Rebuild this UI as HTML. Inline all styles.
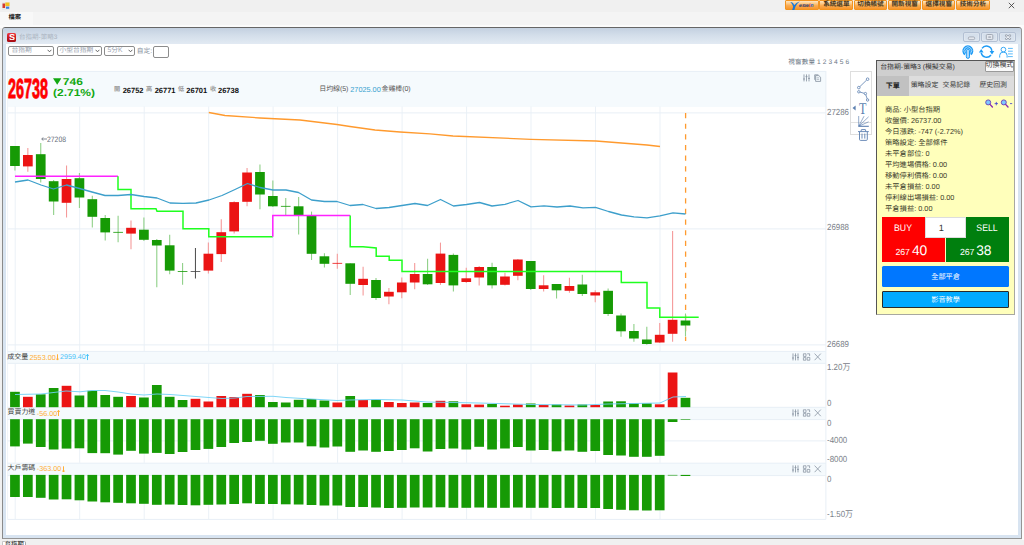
<!DOCTYPE html>
<html lang="zh-Hant"><head><meta charset="utf-8"><title>台指期-策略3</title>
<style>
html,body{margin:0;padding:0;overflow:hidden}
body{width:1024px;height:545px;overflow:hidden;background:#f0f0f0;text-rendering:geometricPrecision;font-family:"Liberation Sans","Noto Sans CJK TC",sans-serif;position:relative}
.a{position:absolute}
.t{position:absolute;white-space:nowrap}
.t span{display:inline}
.ob{position:absolute;top:0;height:10.3px;width:33.6px;border-radius:1px;box-sizing:border-box;border:0.7px solid #f29420;
 background:linear-gradient(#fde6c2 0%,#fccd90 28%,#faab50 58%,#f8962c 100%)}
.sel{position:absolute;top:45.8px;height:10px;box-sizing:border-box;border:1px solid #8c8c8c;border-radius:2px;background:#fff}
.wb{position:absolute;top:32.3px;height:9.6px;width:16.8px;box-sizing:border-box;border:1px solid #b3c0d3;border-radius:2px;background:linear-gradient(#d3deeb,#dbe4ef);box-shadow:inset 0 0 0 0.6px rgba(255,255,255,0.35)}
</style></head><body>
<div class="a" style="left:0;top:0;width:1024px;height:12px;background:#f0f0f0"></div>
<div class="a" style="left:0;top:12px;width:1024px;height:13px;background:#f4f4f4"></div>
<div class="a" style="left:0;top:12px;width:33px;height:13px;background:#f8f8f8"></div>
<div class="a" style="left:0;top:25px;width:1024px;height:3px;background:#fbfbfb"></div>
<svg class="a" style="left:1.5px;top:2px" width="8" height="8" viewBox="0 0 8 8"><rect x="0" y="0" width="8" height="8" fill="#e8e8e8"/><rect x="0.5" y="1.5" width="2.6" height="4.5" fill="#d23a30"/><rect x="3.3" y="0.5" width="4.2" height="3.6" fill="#f3c020"/><rect x="4" y="4.6" width="3.2" height="2.2" fill="#3d7fe0"/></svg>
<div class="t" style="top:15.35px;font-size:6.30px;line-height:6.30px;height:6.30px;color:#222;left:8.40px;font-weight:bold;"><span>檔案</span></div>
<div class="ob" style="left:785.30px"></div>
<div class="ob" style="left:819.45px"></div>
<div class="t" style="top:1.80px;font-size:6.60px;line-height:6.60px;height:6.60px;color:#45361c;left:836.35px;transform:translateX(-50%);font-weight:bold;"><span>系統選單</span></div>
<div class="ob" style="left:853.60px"></div>
<div class="t" style="top:1.80px;font-size:6.60px;line-height:6.60px;height:6.60px;color:#45361c;left:870.50px;transform:translateX(-50%);font-weight:bold;"><span>切換帳號</span></div>
<div class="ob" style="left:887.75px"></div>
<div class="t" style="top:1.80px;font-size:6.60px;line-height:6.60px;height:6.60px;color:#45361c;left:904.65px;transform:translateX(-50%);font-weight:bold;"><span>開新視窗</span></div>
<div class="ob" style="left:921.90px"></div>
<div class="t" style="top:1.80px;font-size:6.60px;line-height:6.60px;height:6.60px;color:#45361c;left:938.80px;transform:translateX(-50%);font-weight:bold;"><span>選擇視窗</span></div>
<div class="ob" style="left:956.05px"></div>
<div class="t" style="top:1.80px;font-size:6.60px;line-height:6.60px;height:6.60px;color:#45361c;left:972.95px;transform:translateX(-50%);font-weight:bold;"><span>技術分析</span></div>
<svg class="a" style="left:790px;top:0.7px" width="10.4" height="9.2" viewBox="0 0 10 9"><path d="M0.2 1Q3 1 4 4.2Q5.6 1.4 9.6 0.2Q6.6 2.6 5.2 5.6L4.2 8.8H2L3 5.6Q2.2 2.6 0.2 1Z" fill="#1b78d8"/></svg>
<div class="t" style="left:799px;top:3.6px;font-size:5.3px;line-height:5.3px;color:#1f3575;font-weight:bold;font-style:italic;letter-spacing:-0.05px">esw<span style="color:#e0201a">i</span><span style="color:#1b62c8">n</span></div>
<svg class="a" style="left:1007.5px;top:2px" width="7" height="7" viewBox="0 0 7 7"><path d="M0.8 0.8L6.2 6.2M6.2 0.8L0.8 6.2" stroke="#333" stroke-width="0.8" fill="none"/></svg>
<div class="a" style="left:2px;top:27px;width:1020px;height:512px;box-sizing:border-box;border:1px solid #959595;border-top-color:#666;border-left-color:#8a8a8a;border-radius:3.5px 3.5px 0 0;background:#d8e4f1"></div>
<div class="a" style="left:3px;top:28px;width:1017.5px;height:16.3px;border-radius:3px 3px 0 0;background:linear-gradient(#c3d0e0,#d3deea 45%,#e2eaf3)"></div>
<div class="a" style="left:6.2px;top:44.2px;width:1011.6px;height:491px;background:#fff"></div>
<div class="a" style="left:7.3px;top:33px;width:8.8px;height:8.8px;border-radius:1.6px;background:linear-gradient(#ee3a42,#c4121a 60%,#a50d14)"></div>
<div class="t" style="left:8.7px;top:33.3px;font-size:8.6px;line-height:8.6px;color:#fff;font-weight:bold;transform:scaleX(1.05);transform-origin:left">S</div>
<div class="t" style="top:34.55px;font-size:6.50px;line-height:6.50px;height:6.50px;color:#aab3c0;left:19.00px;"><span>台指期</span><span>-</span><span>策略</span><span>3</span></div>
<div class="wb" style="left:963.2px"></div>
<div class="wb" style="left:981.3px"></div>
<div class="wb" style="left:999.4px"></div>
<svg class="a" style="left:0;top:0" width="1024" height="545" viewBox="0 0 1024 545" fill="none"><rect x="968.3" y="36.9" width="6.4" height="2.8" rx="1.4" fill="#e3e7ee" stroke="#9aa1ad" stroke-width="0.8"/><rect x="986.3" y="34.5" width="6.5" height="5.1" rx="1.1" fill="#e3e7ee" stroke="#9aa1ad" stroke-width="0.9"/><rect x="988.3" y="36.3" width="2.6" height="1.6" fill="#aab1bd"/><path d="M1006.1 35.5L1010 38.8M1010 35.5L1006.1 38.8" stroke="#9aa1ad" stroke-width="2.3" stroke-linecap="round"/><path d="M1006.1 35.5L1010 38.8M1010 35.5L1006.1 38.8" stroke="#eef1f5" stroke-width="1.0" stroke-linecap="round"/></svg>
<div class="sel" style="left:8.4px;width:46.1px"></div>
<div class="t" style="top:47.52px;font-size:6.75px;line-height:6.75px;height:6.75px;color:#9aa3b0;left:11.40px;"><span>台指期</span></div>
<svg class="a" style="left:47.3px;top:49.3px" width="5" height="4" viewBox="0 0 5 4"><path d="M0.6 0.8L2.5 2.8L4.4 0.8" fill="none" stroke="#555" stroke-width="0.9"/></svg>
<div class="sel" style="left:56.6px;width:45.9px"></div>
<div class="t" style="top:47.52px;font-size:6.75px;line-height:6.75px;height:6.75px;color:#9aa3b0;left:59.60px;"><span>小型台指期</span></div>
<svg class="a" style="left:95.3px;top:49.3px" width="5" height="4" viewBox="0 0 5 4"><path d="M0.6 0.8L2.5 2.8L4.4 0.8" fill="none" stroke="#555" stroke-width="0.9"/></svg>
<div class="sel" style="left:104.4px;width:30.9px"></div>
<div class="t" style="top:47.52px;font-size:6.75px;line-height:6.75px;height:6.75px;color:#9aa3b0;left:107.40px;"><span>5</span><span>分</span><span>K</span></div>
<svg class="a" style="left:128.1px;top:49.3px" width="5" height="4" viewBox="0 0 5 4"><path d="M0.6 0.8L2.5 2.8L4.4 0.8" fill="none" stroke="#555" stroke-width="0.9"/></svg>
<div class="t" style="top:48.65px;font-size:6.70px;line-height:6.70px;height:6.70px;color:#818b98;left:136.80px;"><span>自定</span><span>:</span></div>
<div class="a" style="left:153.3px;top:45.8px;width:15.4px;height:12.2px;box-sizing:border-box;border:1px solid #8c8c8c;border-radius:2px;background:#fff"></div>
<svg class="a" style="left:0;top:0" width="1024" height="545" viewBox="0 0 1024 545" fill="none"><path d="M964.6 55.3A5.5 5.5 0 1 1 971.1 55.3L969.6 52.6A2.4 2.4 0 1 0 966.1 52.6Z" fill="#1e9bf5"/><path d="M965.2 53.4A3.8 3.8 0 1 1 970.5 53.4" stroke="#d6ecfd" stroke-width="0.7"/><rect x="966.3" y="49.2" width="3.2" height="9.2" rx="1.6" fill="#a9d8fc" stroke="#1e9bf5" stroke-width="1"/><path d="M982 48.4A5.5 5.5 0 0 1 991.9 50.8" stroke="#1e9bf5" stroke-width="1.4"/><path d="M991 55A5.5 5.5 0 0 1 981.2 52.8" stroke="#1e9bf5" stroke-width="1.4"/><path d="M989.6 50.9H994.3L992 54.4Z" fill="#1e9bf5"/><path d="M978.9 52.6H983.6L981.2 49.1Z" fill="#1e9bf5"/><circle cx="1003.4" cy="49.6" r="2.35" stroke="#38a9f7" stroke-width="1"/><path d="M999.7 57.6V55.4A3.7 3.3 0 0 1 1007.1 55.4V57.6" stroke="#38a9f7" stroke-width="1"/><path d="M1008 48.4h4.8M1008 51.2h4.8M1008 53.9h4.8M1008 56.6h4.8" stroke="#4ab2f8" stroke-width="0.9"/></svg>
<div class="t" style="top:60.10px;font-size:6.60px;line-height:6.60px;height:6.60px;color:#6b7785;left:788.30px;letter-spacing:0.1px;"><span>視窗數量</span><span>&nbsp;1&nbsp;2&nbsp;3&nbsp;4&nbsp;5&nbsp;6</span></div>
<div class="a" style="left:7px;top:71px;width:819px;height:35.5px;background:#f5fafd"></div>
<div class="a" style="left:7px;top:351px;width:819px;height:12.8px;background:#f5fafd"></div>
<div class="a" style="left:7px;top:407px;width:819px;height:13px;background:#f5fafd"></div>
<div class="a" style="left:7px;top:462.8px;width:819px;height:13.3px;background:#f5fafd"></div>
<svg id="chart" width="1024" height="545" viewBox="0 0 1024 545" style="position:absolute;left:0;top:0">
<line x1="15.2" y1="106.5" x2="15.2" y2="351.0" stroke="#ebf1f7" stroke-width="1"/>
<line x1="15.2" y1="363.8" x2="15.2" y2="407.0" stroke="#ebf1f7" stroke-width="1"/>
<line x1="15.2" y1="420.0" x2="15.2" y2="462.8" stroke="#ebf1f7" stroke-width="1"/>
<line x1="15.2" y1="476.1" x2="15.2" y2="519.4" stroke="#ebf1f7" stroke-width="1"/>
<line x1="79.7" y1="106.5" x2="79.7" y2="351.0" stroke="#ebf1f7" stroke-width="1"/>
<line x1="79.7" y1="363.8" x2="79.7" y2="407.0" stroke="#ebf1f7" stroke-width="1"/>
<line x1="79.7" y1="420.0" x2="79.7" y2="462.8" stroke="#ebf1f7" stroke-width="1"/>
<line x1="79.7" y1="476.1" x2="79.7" y2="519.4" stroke="#ebf1f7" stroke-width="1"/>
<line x1="144.2" y1="106.5" x2="144.2" y2="351.0" stroke="#ebf1f7" stroke-width="1"/>
<line x1="144.2" y1="363.8" x2="144.2" y2="407.0" stroke="#ebf1f7" stroke-width="1"/>
<line x1="144.2" y1="420.0" x2="144.2" y2="462.8" stroke="#ebf1f7" stroke-width="1"/>
<line x1="144.2" y1="476.1" x2="144.2" y2="519.4" stroke="#ebf1f7" stroke-width="1"/>
<line x1="208.7" y1="106.5" x2="208.7" y2="351.0" stroke="#ebf1f7" stroke-width="1"/>
<line x1="208.7" y1="363.8" x2="208.7" y2="407.0" stroke="#ebf1f7" stroke-width="1"/>
<line x1="208.7" y1="420.0" x2="208.7" y2="462.8" stroke="#ebf1f7" stroke-width="1"/>
<line x1="208.7" y1="476.1" x2="208.7" y2="519.4" stroke="#ebf1f7" stroke-width="1"/>
<line x1="273.1" y1="106.5" x2="273.1" y2="351.0" stroke="#ebf1f7" stroke-width="1"/>
<line x1="273.1" y1="363.8" x2="273.1" y2="407.0" stroke="#ebf1f7" stroke-width="1"/>
<line x1="273.1" y1="420.0" x2="273.1" y2="462.8" stroke="#ebf1f7" stroke-width="1"/>
<line x1="273.1" y1="476.1" x2="273.1" y2="519.4" stroke="#ebf1f7" stroke-width="1"/>
<line x1="337.6" y1="106.5" x2="337.6" y2="351.0" stroke="#ebf1f7" stroke-width="1"/>
<line x1="337.6" y1="363.8" x2="337.6" y2="407.0" stroke="#ebf1f7" stroke-width="1"/>
<line x1="337.6" y1="420.0" x2="337.6" y2="462.8" stroke="#ebf1f7" stroke-width="1"/>
<line x1="337.6" y1="476.1" x2="337.6" y2="519.4" stroke="#ebf1f7" stroke-width="1"/>
<line x1="402.1" y1="106.5" x2="402.1" y2="351.0" stroke="#ebf1f7" stroke-width="1"/>
<line x1="402.1" y1="363.8" x2="402.1" y2="407.0" stroke="#ebf1f7" stroke-width="1"/>
<line x1="402.1" y1="420.0" x2="402.1" y2="462.8" stroke="#ebf1f7" stroke-width="1"/>
<line x1="402.1" y1="476.1" x2="402.1" y2="519.4" stroke="#ebf1f7" stroke-width="1"/>
<line x1="466.6" y1="106.5" x2="466.6" y2="351.0" stroke="#ebf1f7" stroke-width="1"/>
<line x1="466.6" y1="363.8" x2="466.6" y2="407.0" stroke="#ebf1f7" stroke-width="1"/>
<line x1="466.6" y1="420.0" x2="466.6" y2="462.8" stroke="#ebf1f7" stroke-width="1"/>
<line x1="466.6" y1="476.1" x2="466.6" y2="519.4" stroke="#ebf1f7" stroke-width="1"/>
<line x1="531.0" y1="106.5" x2="531.0" y2="351.0" stroke="#ebf1f7" stroke-width="1"/>
<line x1="531.0" y1="363.8" x2="531.0" y2="407.0" stroke="#ebf1f7" stroke-width="1"/>
<line x1="531.0" y1="420.0" x2="531.0" y2="462.8" stroke="#ebf1f7" stroke-width="1"/>
<line x1="531.0" y1="476.1" x2="531.0" y2="519.4" stroke="#ebf1f7" stroke-width="1"/>
<line x1="595.5" y1="106.5" x2="595.5" y2="351.0" stroke="#ebf1f7" stroke-width="1"/>
<line x1="595.5" y1="363.8" x2="595.5" y2="407.0" stroke="#ebf1f7" stroke-width="1"/>
<line x1="595.5" y1="420.0" x2="595.5" y2="462.8" stroke="#ebf1f7" stroke-width="1"/>
<line x1="595.5" y1="476.1" x2="595.5" y2="519.4" stroke="#ebf1f7" stroke-width="1"/>
<line x1="660.0" y1="106.5" x2="660.0" y2="351.0" stroke="#ebf1f7" stroke-width="1"/>
<line x1="660.0" y1="363.8" x2="660.0" y2="407.0" stroke="#ebf1f7" stroke-width="1"/>
<line x1="660.0" y1="420.0" x2="660.0" y2="462.8" stroke="#ebf1f7" stroke-width="1"/>
<line x1="660.0" y1="476.1" x2="660.0" y2="519.4" stroke="#ebf1f7" stroke-width="1"/>
<line x1="7.6" y1="71" x2="7.6" y2="519.3" stroke="#f0f4f9" stroke-width="1"/>
<line x1="825.9" y1="71" x2="825.9" y2="519.3" stroke="#e8eff6" stroke-width="1"/>
<line x1="7.6" y1="71.4" x2="825.9" y2="71.4" stroke="#e8eff6" stroke-width="1"/>
<line x1="7.6" y1="112.9" x2="825.9" y2="112.9" stroke="#e8eff6" stroke-width="1"/>
<line x1="7.6" y1="228.9" x2="825.9" y2="228.9" stroke="#e8eff6" stroke-width="1"/>
<line x1="7.6" y1="344.9" x2="825.9" y2="344.9" stroke="#e8eff6" stroke-width="1"/>
<line x1="7.6" y1="351.4" x2="825.9" y2="351.4" stroke="#e8eff6" stroke-width="1"/>
<line x1="7.6" y1="363.3" x2="825.9" y2="363.3" stroke="#e8eff6" stroke-width="1"/>
<line x1="7.6" y1="407.3" x2="825.9" y2="407.3" stroke="#e8eff6" stroke-width="1"/>
<line x1="7.6" y1="419.6" x2="825.9" y2="419.6" stroke="#e8eff6" stroke-width="1"/>
<line x1="7.6" y1="440.9" x2="825.9" y2="440.9" stroke="#e8eff6" stroke-width="1"/>
<line x1="7.6" y1="463.2" x2="825.9" y2="463.2" stroke="#e8eff6" stroke-width="1"/>
<line x1="7.6" y1="475.6" x2="825.9" y2="475.6" stroke="#e8eff6" stroke-width="1"/>
<line x1="7.6" y1="519.4" x2="825.9" y2="519.4" stroke="#e8eff6" stroke-width="1"/>
<polyline points="208.8,112.5 225.0,115.5 260.0,118.0 300.0,120.0 337.0,124.5 350.0,126.5 375.0,130.0 400.0,132.0 430.0,133.8 453.0,136.0 531.0,139.3 596.0,141.0 647.0,145.0 660.0,146.5" fill="none" stroke="#ff9a2e" stroke-width="1.3" stroke-linejoin="round"/>
<line x1="685.6" y1="113" x2="685.6" y2="341" stroke="#ff9a2e" stroke-width="1.3" stroke-dasharray="5.2,5.45"/>
<line x1="14.95" y1="146.0" x2="14.95" y2="170.5" stroke="#8fd088" stroke-width="1.1"/>
<rect x="10.10" y="146.0" width="9.7" height="20.0" fill="#169a05"/>
<line x1="27.84" y1="148.0" x2="27.84" y2="171.8" stroke="#f59a9a" stroke-width="1.1"/>
<rect x="22.99" y="155.0" width="9.7" height="11.4" fill="#eb1414"/>
<line x1="40.74" y1="143.0" x2="40.74" y2="182.5" stroke="#8fd088" stroke-width="1.1"/>
<rect x="35.89" y="154.2" width="9.7" height="24.8" fill="#169a05"/>
<line x1="53.64" y1="180.0" x2="53.64" y2="215.0" stroke="#8fd088" stroke-width="1.1"/>
<rect x="48.79" y="181.2" width="9.7" height="20.3" fill="#169a05"/>
<line x1="66.53" y1="165.5" x2="66.53" y2="217.5" stroke="#f59a9a" stroke-width="1.1"/>
<rect x="61.68" y="179.0" width="9.7" height="23.8" fill="#eb1414"/>
<line x1="79.42" y1="173.0" x2="79.42" y2="208.0" stroke="#8fd088" stroke-width="1.1"/>
<rect x="74.58" y="178.2" width="9.7" height="19.3" fill="#169a05"/>
<line x1="92.32" y1="195.8" x2="92.32" y2="227.5" stroke="#8fd088" stroke-width="1.1"/>
<rect x="87.47" y="199.2" width="9.7" height="17.6" fill="#169a05"/>
<line x1="105.22" y1="215.0" x2="105.22" y2="240.5" stroke="#8fd088" stroke-width="1.1"/>
<rect x="100.37" y="218.0" width="9.7" height="14.4" fill="#169a05"/>
<line x1="118.11" y1="215.8" x2="118.11" y2="242.3" stroke="#8fd088" stroke-width="1.1"/>
<rect x="113.26" y="231.9" width="9.7" height="0.8" fill="#169a05"/>
<line x1="131.00" y1="220.5" x2="131.00" y2="249.3" stroke="#f59a9a" stroke-width="1.1"/>
<rect x="126.16" y="227.8" width="9.7" height="5.8" fill="#eb1414"/>
<line x1="143.90" y1="217.5" x2="143.90" y2="241.0" stroke="#8fd088" stroke-width="1.1"/>
<rect x="139.05" y="229.7" width="9.7" height="10.1" fill="#169a05"/>
<line x1="156.79" y1="239.0" x2="156.79" y2="287.3" stroke="#8fd088" stroke-width="1.1"/>
<rect x="151.94" y="240.0" width="9.7" height="5.5" fill="#169a05"/>
<line x1="169.69" y1="234.8" x2="169.69" y2="274.3" stroke="#8fd088" stroke-width="1.1"/>
<rect x="164.84" y="245.3" width="9.7" height="25.3" fill="#169a05"/>
<line x1="182.58" y1="263.0" x2="182.58" y2="284.8" stroke="#8fd088" stroke-width="1.1"/>
<rect x="177.73" y="271.2" width="9.7" height="0.8" fill="#169a05"/>
<line x1="195.48" y1="248.0" x2="195.48" y2="278.5" stroke="#555" stroke-width="1.1"/>
<rect x="190.63" y="271.2" width="9.7" height="0.8" fill="#444"/>
<line x1="208.37" y1="242.4" x2="208.37" y2="273.4" stroke="#f59a9a" stroke-width="1.1"/>
<rect x="203.52" y="253.7" width="9.7" height="16.9" fill="#eb1414"/>
<line x1="221.27" y1="219.3" x2="221.27" y2="262.1" stroke="#f59a9a" stroke-width="1.1"/>
<rect x="216.42" y="232.2" width="9.7" height="21.9" fill="#eb1414"/>
<line x1="234.16" y1="201.3" x2="234.16" y2="233.4" stroke="#f59a9a" stroke-width="1.1"/>
<rect x="229.31" y="202.1" width="9.7" height="29.3" fill="#eb1414"/>
<line x1="247.06" y1="168.0" x2="247.06" y2="206.3" stroke="#f59a9a" stroke-width="1.1"/>
<rect x="242.21" y="172.5" width="9.7" height="29.3" fill="#eb1414"/>
<line x1="259.95" y1="164.5" x2="259.95" y2="209.3" stroke="#8fd088" stroke-width="1.1"/>
<rect x="255.10" y="172.0" width="9.7" height="22.5" fill="#169a05"/>
<line x1="272.85" y1="180.5" x2="272.85" y2="207.0" stroke="#8fd088" stroke-width="1.1"/>
<rect x="268.00" y="196.0" width="9.7" height="10.3" fill="#169a05"/>
<line x1="285.75" y1="198.0" x2="285.75" y2="215.0" stroke="#8fd088" stroke-width="1.1"/>
<rect x="280.89" y="205.9" width="9.7" height="0.8" fill="#169a05"/>
<line x1="298.64" y1="197.0" x2="298.64" y2="234.4" stroke="#8fd088" stroke-width="1.1"/>
<rect x="293.79" y="206.3" width="9.7" height="8.7" fill="#169a05"/>
<line x1="311.53" y1="211.6" x2="311.53" y2="260.0" stroke="#8fd088" stroke-width="1.1"/>
<rect x="306.68" y="215.5" width="9.7" height="38.3" fill="#169a05"/>
<line x1="324.43" y1="253.3" x2="324.43" y2="267.5" stroke="#8fd088" stroke-width="1.1"/>
<rect x="319.58" y="256.3" width="9.7" height="7.5" fill="#169a05"/>
<line x1="337.32" y1="253.8" x2="337.32" y2="268.8" stroke="#f59a9a" stroke-width="1.1"/>
<rect x="332.47" y="262.9" width="9.7" height="0.8" fill="#eb1414"/>
<line x1="350.22" y1="263.3" x2="350.22" y2="295.0" stroke="#8fd088" stroke-width="1.1"/>
<rect x="345.37" y="263.3" width="9.7" height="20.5" fill="#169a05"/>
<line x1="363.11" y1="266.8" x2="363.11" y2="295.5" stroke="#f59a9a" stroke-width="1.1"/>
<rect x="358.26" y="278.8" width="9.7" height="6.2" fill="#eb1414"/>
<line x1="376.01" y1="278.0" x2="376.01" y2="300.0" stroke="#8fd088" stroke-width="1.1"/>
<rect x="371.16" y="280.0" width="9.7" height="18.0" fill="#169a05"/>
<line x1="388.90" y1="288.0" x2="388.90" y2="304.3" stroke="#f59a9a" stroke-width="1.1"/>
<rect x="384.05" y="291.8" width="9.7" height="4.7" fill="#eb1414"/>
<line x1="401.80" y1="277.5" x2="401.80" y2="298.3" stroke="#f59a9a" stroke-width="1.1"/>
<rect x="396.95" y="282.5" width="9.7" height="9.8" fill="#eb1414"/>
<line x1="414.69" y1="263.0" x2="414.69" y2="289.3" stroke="#f59a9a" stroke-width="1.1"/>
<rect x="409.84" y="274.0" width="9.7" height="8.5" fill="#eb1414"/>
<line x1="427.59" y1="258.8" x2="427.59" y2="285.0" stroke="#8fd088" stroke-width="1.1"/>
<rect x="422.74" y="274.0" width="9.7" height="10.3" fill="#169a05"/>
<line x1="440.48" y1="242.6" x2="440.48" y2="284.9" stroke="#f59a9a" stroke-width="1.1"/>
<rect x="435.63" y="253.6" width="9.7" height="29.4" fill="#eb1414"/>
<line x1="453.38" y1="253.4" x2="453.38" y2="291.4" stroke="#8fd088" stroke-width="1.1"/>
<rect x="448.53" y="254.9" width="9.7" height="30.5" fill="#169a05"/>
<line x1="466.27" y1="267.8" x2="466.27" y2="283.0" stroke="#f59a9a" stroke-width="1.1"/>
<rect x="461.42" y="278.3" width="9.7" height="3.7" fill="#eb1414"/>
<line x1="479.17" y1="266.0" x2="479.17" y2="285.5" stroke="#f59a9a" stroke-width="1.1"/>
<rect x="474.32" y="267.0" width="9.7" height="10.5" fill="#eb1414"/>
<line x1="492.06" y1="262.8" x2="492.06" y2="288.5" stroke="#8fd088" stroke-width="1.1"/>
<rect x="487.21" y="267.0" width="9.7" height="18.3" fill="#169a05"/>
<line x1="504.96" y1="272.8" x2="504.96" y2="285.5" stroke="#f59a9a" stroke-width="1.1"/>
<rect x="500.11" y="276.5" width="9.7" height="8.3" fill="#eb1414"/>
<line x1="517.86" y1="259.0" x2="517.86" y2="280.3" stroke="#f59a9a" stroke-width="1.1"/>
<rect x="513.00" y="259.5" width="9.7" height="16.3" fill="#eb1414"/>
<line x1="530.75" y1="261.0" x2="530.75" y2="290.0" stroke="#8fd088" stroke-width="1.1"/>
<rect x="525.90" y="261.0" width="9.7" height="28.0" fill="#169a05"/>
<line x1="543.64" y1="275.3" x2="543.64" y2="291.5" stroke="#f59a9a" stroke-width="1.1"/>
<rect x="538.79" y="285.3" width="9.7" height="3.7" fill="#eb1414"/>
<line x1="556.54" y1="284.0" x2="556.54" y2="298.5" stroke="#8fd088" stroke-width="1.1"/>
<rect x="551.69" y="284.0" width="9.7" height="6.3" fill="#169a05"/>
<line x1="569.44" y1="277.8" x2="569.44" y2="292.8" stroke="#f59a9a" stroke-width="1.1"/>
<rect x="564.59" y="286.0" width="9.7" height="4.8" fill="#eb1414"/>
<line x1="582.33" y1="274.8" x2="582.33" y2="296.0" stroke="#8fd088" stroke-width="1.1"/>
<rect x="577.48" y="284.5" width="9.7" height="9.5" fill="#169a05"/>
<line x1="595.23" y1="290.3" x2="595.23" y2="302.3" stroke="#f59a9a" stroke-width="1.1"/>
<rect x="590.38" y="292.3" width="9.7" height="3.2" fill="#eb1414"/>
<line x1="608.12" y1="288.5" x2="608.12" y2="316.0" stroke="#8fd088" stroke-width="1.1"/>
<rect x="603.27" y="290.8" width="9.7" height="23.2" fill="#169a05"/>
<line x1="621.01" y1="313.5" x2="621.01" y2="336.8" stroke="#8fd088" stroke-width="1.1"/>
<rect x="616.16" y="315.5" width="9.7" height="15.8" fill="#169a05"/>
<line x1="633.91" y1="324.0" x2="633.91" y2="341.8" stroke="#8fd088" stroke-width="1.1"/>
<rect x="629.06" y="331.0" width="9.7" height="7.5" fill="#169a05"/>
<line x1="646.81" y1="326.8" x2="646.81" y2="344.8" stroke="#8fd088" stroke-width="1.1"/>
<rect x="641.96" y="339.5" width="9.7" height="4.5" fill="#169a05"/>
<line x1="659.70" y1="323.0" x2="659.70" y2="343.0" stroke="#f59a9a" stroke-width="1.1"/>
<rect x="654.85" y="334.8" width="9.7" height="7.7" fill="#eb1414"/>
<line x1="672.60" y1="231.0" x2="672.60" y2="341.8" stroke="#f59a9a" stroke-width="1.1"/>
<rect x="667.75" y="319.8" width="9.7" height="14.0" fill="#eb1414"/>
<line x1="685.49" y1="313.5" x2="685.49" y2="336.5" stroke="#8fd088" stroke-width="1.1"/>
<rect x="680.64" y="320.5" width="9.7" height="5.0" fill="#169a05"/>
<polyline points="15.0,176.3 118.0,176.3" fill="none" stroke="#ff22ff" stroke-width="1.5"/>
<polyline points="118.0,176.3 118.0,189.5 131.0,189.5 131.0,208.8 156.0,208.8 157.0,211.2 183.0,211.2 183.0,228.8 208.8,228.8 208.8,236.7 272.8,236.7" fill="none" stroke="#1fff1f" stroke-width="1.5"/>
<polyline points="272.8,236.7 272.8,215.5 350.2,215.5" fill="none" stroke="#ff22ff" stroke-width="1.5"/>
<polyline points="350.2,215.5 350.2,246.8 363.0,246.8 376.2,248.0 376.2,256.2 389.2,256.2 389.2,260.2 402.0,260.2 402.0,271.4 621.3,271.4 621.3,282.5 647.0,282.5 647.0,308.0 659.8,308.0 659.8,317.3 698.7,317.3" fill="none" stroke="#1fff1f" stroke-width="1.5"/>
<polyline points="15.0,182.0 28.0,180.0 41.0,185.0 53.5,189.0 66.5,185.0 79.5,188.5 92.0,192.0 105.0,195.5 118.0,195.5 131.0,194.5 144.0,196.5 157.0,198.0 170.0,203.0 183.0,203.3 196.0,203.0 209.0,200.0 222.0,195.5 235.0,189.5 247.5,183.5 260.0,187.5 273.0,190.0 286.0,190.0 298.5,192.5 311.5,200.0 324.5,201.5 337.0,201.5 350.0,205.5 363.0,204.5 376.0,208.5 389.0,207.5 402.0,205.5 415.0,203.5 427.5,205.5 440.5,199.5 453.5,206.0 466.5,204.5 479.5,202.5 492.0,206.0 505.0,204.3 518.0,200.5 531.0,206.8 544.0,205.8 557.0,207.0 570.0,206.0 583.0,207.8 595.5,207.3 608.5,211.5 621.5,215.0 634.0,216.8 647.0,217.8 660.0,215.8 673.0,212.8 685.5,214.0" fill="none" stroke="#3d9fcb" stroke-width="1.3" stroke-linejoin="round"/>
<rect x="10.10" y="391.8" width="9.7" height="15.4" fill="#169a05"/>
<rect x="22.99" y="396.8" width="9.7" height="10.4" fill="#eb1414"/>
<rect x="35.89" y="394.3" width="9.7" height="12.9" fill="#169a05"/>
<rect x="48.79" y="388.0" width="9.7" height="19.2" fill="#169a05"/>
<rect x="61.68" y="385.8" width="9.7" height="21.4" fill="#eb1414"/>
<rect x="74.58" y="395.5" width="9.7" height="11.7" fill="#169a05"/>
<rect x="87.47" y="390.8" width="9.7" height="16.4" fill="#169a05"/>
<rect x="100.37" y="395.0" width="9.7" height="12.2" fill="#169a05"/>
<rect x="113.26" y="396.8" width="9.7" height="10.4" fill="#169a05"/>
<rect x="126.16" y="396.0" width="9.7" height="11.2" fill="#eb1414"/>
<rect x="139.05" y="397.5" width="9.7" height="9.7" fill="#169a05"/>
<rect x="151.94" y="385.0" width="9.7" height="22.2" fill="#169a05"/>
<rect x="164.84" y="396.8" width="9.7" height="10.4" fill="#169a05"/>
<rect x="177.73" y="400.0" width="9.7" height="7.2" fill="#169a05"/>
<rect x="190.63" y="398.8" width="9.7" height="8.4" fill="#eb1414"/>
<rect x="203.52" y="401.5" width="9.7" height="5.7" fill="#eb1414"/>
<rect x="216.42" y="396.0" width="9.7" height="11.2" fill="#eb1414"/>
<rect x="229.31" y="397.0" width="9.7" height="10.2" fill="#eb1414"/>
<rect x="242.21" y="393.8" width="9.7" height="13.4" fill="#eb1414"/>
<rect x="255.10" y="395.0" width="9.7" height="12.2" fill="#169a05"/>
<rect x="268.00" y="402.0" width="9.7" height="5.2" fill="#169a05"/>
<rect x="280.89" y="402.5" width="9.7" height="4.7" fill="#169a05"/>
<rect x="293.79" y="399.8" width="9.7" height="7.4" fill="#169a05"/>
<rect x="306.68" y="399.0" width="9.7" height="8.2" fill="#169a05"/>
<rect x="319.58" y="400.5" width="9.7" height="6.7" fill="#169a05"/>
<rect x="332.47" y="402.5" width="9.7" height="4.7" fill="#eb1414"/>
<rect x="345.37" y="396.0" width="9.7" height="11.2" fill="#169a05"/>
<rect x="358.26" y="400.0" width="9.7" height="7.2" fill="#eb1414"/>
<rect x="371.16" y="399.8" width="9.7" height="7.4" fill="#169a05"/>
<rect x="384.05" y="402.0" width="9.7" height="5.2" fill="#eb1414"/>
<rect x="396.95" y="403.0" width="9.7" height="4.2" fill="#eb1414"/>
<rect x="409.84" y="402.5" width="9.7" height="4.7" fill="#eb1414"/>
<rect x="422.74" y="403.0" width="9.7" height="4.2" fill="#169a05"/>
<rect x="435.63" y="400.8" width="9.7" height="6.4" fill="#eb1414"/>
<rect x="448.53" y="401.3" width="9.7" height="5.9" fill="#169a05"/>
<rect x="461.42" y="404.3" width="9.7" height="2.9" fill="#eb1414"/>
<rect x="474.32" y="404.6" width="9.7" height="2.6" fill="#eb1414"/>
<rect x="487.21" y="404.0" width="9.7" height="3.2" fill="#169a05"/>
<rect x="500.11" y="405.7" width="9.7" height="1.5" fill="#eb1414"/>
<rect x="513.00" y="404.5" width="9.7" height="2.7" fill="#eb1414"/>
<rect x="525.90" y="403.5" width="9.7" height="3.7" fill="#169a05"/>
<rect x="538.79" y="405.0" width="9.7" height="2.2" fill="#eb1414"/>
<rect x="551.69" y="404.5" width="9.7" height="2.7" fill="#169a05"/>
<rect x="564.59" y="405.5" width="9.7" height="1.7" fill="#eb1414"/>
<rect x="577.48" y="404.5" width="9.7" height="2.7" fill="#169a05"/>
<rect x="590.38" y="405.0" width="9.7" height="2.2" fill="#eb1414"/>
<rect x="603.27" y="401.5" width="9.7" height="5.7" fill="#169a05"/>
<rect x="616.16" y="401.3" width="9.7" height="5.9" fill="#169a05"/>
<rect x="629.06" y="403.3" width="9.7" height="3.9" fill="#169a05"/>
<rect x="641.96" y="403.3" width="9.7" height="3.9" fill="#169a05"/>
<rect x="654.85" y="404.3" width="9.7" height="2.9" fill="#eb1414"/>
<rect x="667.75" y="372.5" width="9.7" height="34.7" fill="#eb1414"/>
<rect x="680.64" y="397.8" width="9.7" height="9.4" fill="#169a05"/>
<polyline points="15.0,394.5 41.0,394.0 66.0,391.0 80.0,391.8 92.0,390.5 105.0,390.5 118.0,392.0 131.0,394.0 144.0,395.0 157.0,394.0 170.0,394.5 183.0,395.5 196.0,396.5 209.0,397.5 222.0,398.5 235.0,398.0 247.0,396.5 273.0,396.3 286.0,397.5 311.0,399.0 337.0,400.5 350.0,400.0 376.0,399.5 402.0,400.0 427.0,402.0 453.0,402.5 479.0,403.0 531.0,404.5 583.0,405.0 608.0,404.0 660.0,403.0 673.0,397.0 686.0,396.5" fill="none" stroke="#6fd0f5" stroke-width="0.9" stroke-linejoin="round"/>
<rect x="10.10" y="419.2" width="9.7" height="27.2" fill="#169a05"/>
<rect x="22.99" y="419.2" width="9.7" height="24.4" fill="#169a05"/>
<rect x="35.89" y="419.2" width="9.7" height="27.8" fill="#169a05"/>
<rect x="48.79" y="419.2" width="9.7" height="30.3" fill="#169a05"/>
<rect x="61.68" y="419.2" width="9.7" height="29.4" fill="#169a05"/>
<rect x="74.58" y="419.2" width="9.7" height="29.1" fill="#169a05"/>
<rect x="87.47" y="419.2" width="9.7" height="33.9" fill="#169a05"/>
<rect x="100.37" y="419.2" width="9.7" height="34.0" fill="#169a05"/>
<rect x="113.26" y="419.2" width="9.7" height="35.4" fill="#169a05"/>
<rect x="126.16" y="419.2" width="9.7" height="31.6" fill="#169a05"/>
<rect x="139.05" y="419.2" width="9.7" height="34.4" fill="#169a05"/>
<rect x="151.94" y="419.2" width="9.7" height="33.7" fill="#169a05"/>
<rect x="164.84" y="419.2" width="9.7" height="34.8" fill="#169a05"/>
<rect x="177.73" y="419.2" width="9.7" height="32.8" fill="#169a05"/>
<rect x="190.63" y="419.2" width="9.7" height="30.8" fill="#169a05"/>
<rect x="203.52" y="419.2" width="9.7" height="29.7" fill="#169a05"/>
<rect x="216.42" y="419.2" width="9.7" height="27.8" fill="#169a05"/>
<rect x="229.31" y="419.2" width="9.7" height="23.8" fill="#169a05"/>
<rect x="242.21" y="419.2" width="9.7" height="22.8" fill="#169a05"/>
<rect x="255.10" y="419.2" width="9.7" height="21.6" fill="#169a05"/>
<rect x="268.00" y="419.2" width="9.7" height="24.6" fill="#169a05"/>
<rect x="280.89" y="419.2" width="9.7" height="23.3" fill="#169a05"/>
<rect x="293.79" y="419.2" width="9.7" height="23.3" fill="#169a05"/>
<rect x="306.68" y="419.2" width="9.7" height="27.1" fill="#169a05"/>
<rect x="319.58" y="419.2" width="9.7" height="28.3" fill="#169a05"/>
<rect x="332.47" y="419.2" width="9.7" height="27.3" fill="#169a05"/>
<rect x="345.37" y="419.2" width="9.7" height="32.6" fill="#169a05"/>
<rect x="358.26" y="419.2" width="9.7" height="31.3" fill="#169a05"/>
<rect x="371.16" y="419.2" width="9.7" height="32.6" fill="#169a05"/>
<rect x="384.05" y="419.2" width="9.7" height="31.8" fill="#169a05"/>
<rect x="396.95" y="419.2" width="9.7" height="30.8" fill="#169a05"/>
<rect x="409.84" y="419.2" width="9.7" height="29.1" fill="#169a05"/>
<rect x="422.74" y="419.2" width="9.7" height="32.3" fill="#169a05"/>
<rect x="435.63" y="419.2" width="9.7" height="29.8" fill="#169a05"/>
<rect x="448.53" y="419.2" width="9.7" height="29.3" fill="#169a05"/>
<rect x="461.42" y="419.2" width="9.7" height="30.3" fill="#169a05"/>
<rect x="474.32" y="419.2" width="9.7" height="27.6" fill="#169a05"/>
<rect x="487.21" y="419.2" width="9.7" height="30.3" fill="#169a05"/>
<rect x="500.11" y="419.2" width="9.7" height="29.3" fill="#169a05"/>
<rect x="513.00" y="419.2" width="9.7" height="27.8" fill="#169a05"/>
<rect x="525.90" y="419.2" width="9.7" height="31.3" fill="#169a05"/>
<rect x="538.79" y="419.2" width="9.7" height="30.8" fill="#169a05"/>
<rect x="551.69" y="419.2" width="9.7" height="32.1" fill="#169a05"/>
<rect x="564.59" y="419.2" width="9.7" height="31.3" fill="#169a05"/>
<rect x="577.48" y="419.2" width="9.7" height="32.6" fill="#169a05"/>
<rect x="590.38" y="419.2" width="9.7" height="31.8" fill="#169a05"/>
<rect x="603.27" y="419.2" width="9.7" height="35.8" fill="#169a05"/>
<rect x="616.16" y="419.2" width="9.7" height="36.3" fill="#169a05"/>
<rect x="629.06" y="419.2" width="9.7" height="37.6" fill="#169a05"/>
<rect x="641.96" y="419.2" width="9.7" height="37.6" fill="#169a05"/>
<rect x="654.85" y="419.2" width="9.7" height="36.6" fill="#169a05"/>
<rect x="667.75" y="419.2" width="9.7" height="2.8" fill="#169a05"/>
<rect x="680.64" y="419.2" width="9.7" height="0.6" fill="#169a05"/>
<rect x="10.10" y="474.9" width="9.7" height="22.1" fill="#169a05"/>
<rect x="22.99" y="474.9" width="9.7" height="22.1" fill="#169a05"/>
<rect x="35.89" y="474.9" width="9.7" height="22.9" fill="#169a05"/>
<rect x="48.79" y="474.9" width="9.7" height="24.6" fill="#169a05"/>
<rect x="61.68" y="474.9" width="9.7" height="24.4" fill="#169a05"/>
<rect x="74.58" y="474.9" width="9.7" height="25.4" fill="#169a05"/>
<rect x="87.47" y="474.9" width="9.7" height="26.6" fill="#169a05"/>
<rect x="100.37" y="474.9" width="9.7" height="27.4" fill="#169a05"/>
<rect x="113.26" y="474.9" width="9.7" height="27.9" fill="#169a05"/>
<rect x="126.16" y="474.9" width="9.7" height="28.4" fill="#169a05"/>
<rect x="139.05" y="474.9" width="9.7" height="28.9" fill="#169a05"/>
<rect x="151.94" y="474.9" width="9.7" height="29.9" fill="#169a05"/>
<rect x="164.84" y="474.9" width="9.7" height="29.6" fill="#169a05"/>
<rect x="177.73" y="474.9" width="9.7" height="30.1" fill="#169a05"/>
<rect x="190.63" y="474.9" width="9.7" height="30.4" fill="#169a05"/>
<rect x="203.52" y="474.9" width="9.7" height="29.9" fill="#169a05"/>
<rect x="216.42" y="474.9" width="9.7" height="29.6" fill="#169a05"/>
<rect x="229.31" y="474.9" width="9.7" height="29.1" fill="#169a05"/>
<rect x="242.21" y="474.9" width="9.7" height="28.4" fill="#169a05"/>
<rect x="255.10" y="474.9" width="9.7" height="29.1" fill="#169a05"/>
<rect x="268.00" y="474.9" width="9.7" height="29.1" fill="#169a05"/>
<rect x="280.89" y="474.9" width="9.7" height="29.4" fill="#169a05"/>
<rect x="293.79" y="474.9" width="9.7" height="29.6" fill="#169a05"/>
<rect x="306.68" y="474.9" width="9.7" height="30.1" fill="#169a05"/>
<rect x="319.58" y="474.9" width="9.7" height="30.6" fill="#169a05"/>
<rect x="332.47" y="474.9" width="9.7" height="30.6" fill="#169a05"/>
<rect x="345.37" y="474.9" width="9.7" height="32.1" fill="#169a05"/>
<rect x="358.26" y="474.9" width="9.7" height="32.1" fill="#169a05"/>
<rect x="371.16" y="474.9" width="9.7" height="32.6" fill="#169a05"/>
<rect x="384.05" y="474.9" width="9.7" height="33.1" fill="#169a05"/>
<rect x="396.95" y="474.9" width="9.7" height="32.9" fill="#169a05"/>
<rect x="409.84" y="474.9" width="9.7" height="32.6" fill="#169a05"/>
<rect x="422.74" y="474.9" width="9.7" height="32.6" fill="#169a05"/>
<rect x="435.63" y="474.9" width="9.7" height="32.4" fill="#169a05"/>
<rect x="448.53" y="474.9" width="9.7" height="32.9" fill="#169a05"/>
<rect x="461.42" y="474.9" width="9.7" height="32.9" fill="#169a05"/>
<rect x="474.32" y="474.9" width="9.7" height="32.6" fill="#169a05"/>
<rect x="487.21" y="474.9" width="9.7" height="32.9" fill="#169a05"/>
<rect x="500.11" y="474.9" width="9.7" height="32.9" fill="#169a05"/>
<rect x="513.00" y="474.9" width="9.7" height="32.6" fill="#169a05"/>
<rect x="525.90" y="474.9" width="9.7" height="32.9" fill="#169a05"/>
<rect x="538.79" y="474.9" width="9.7" height="32.9" fill="#169a05"/>
<rect x="551.69" y="474.9" width="9.7" height="33.1" fill="#169a05"/>
<rect x="564.59" y="474.9" width="9.7" height="32.9" fill="#169a05"/>
<rect x="577.48" y="474.9" width="9.7" height="33.1" fill="#169a05"/>
<rect x="590.38" y="474.9" width="9.7" height="33.1" fill="#169a05"/>
<rect x="603.27" y="474.9" width="9.7" height="34.1" fill="#169a05"/>
<rect x="616.16" y="474.9" width="9.7" height="34.9" fill="#169a05"/>
<rect x="629.06" y="474.9" width="9.7" height="35.4" fill="#169a05"/>
<rect x="641.96" y="474.9" width="9.7" height="35.6" fill="#169a05"/>
<rect x="654.85" y="474.9" width="9.7" height="35.4" fill="#169a05"/>
<rect x="667.75" y="474.9" width="9.7" height="0.6" fill="#169a05"/>
<rect x="680.64" y="474.9" width="9.7" height="1.1" fill="#169a05"/>
</svg>
<div class="t" style="left:8px;top:75.3px;font-size:27.6px;line-height:27.6px;color:#ff0000;font-weight:bold;transform:scaleX(0.52);transform-origin:left center;-webkit-text-stroke:0.9px #ff0000">26738</div>
<div class="t" style="left:52.6px;top:77.6px;font-size:10px;line-height:10px;color:#12a812;font-weight:bold;transform:scaleX(1.2);transform-origin:left center"><svg width="7" height="7" viewBox="0 0 7 7" style="vertical-align:-0.3px;margin-right:1.2px"><path d="M0 0.3H7L3.5 6.8Z" fill="#12a812"/></svg>746</div>
<div class="t" style="left:52.6px;top:88.8px;font-size:10px;line-height:10px;color:#12a812;font-weight:bold;transform:scaleX(1.2);transform-origin:left center">(2.71%)</div>
<div class="t" style="top:87.10px;font-size:6.20px;line-height:6.20px;height:6.20px;color:#9a9a9a;left:114.00px;font-weight:bold;"><span>開</span></div>
<div class="t" style="top:86.65px;font-size:7.50px;line-height:7.50px;height:7.50px;color:#111;left:122.70px;font-weight:bold;"><span>26752</span></div>
<div class="t" style="top:87.10px;font-size:6.20px;line-height:6.20px;height:6.20px;color:#9a9a9a;left:146.00px;font-weight:bold;"><span>高</span></div>
<div class="t" style="top:86.65px;font-size:7.50px;line-height:7.50px;height:7.50px;color:#111;left:154.70px;font-weight:bold;"><span>26771</span></div>
<div class="t" style="top:87.10px;font-size:6.20px;line-height:6.20px;height:6.20px;color:#9a9a9a;left:178.00px;font-weight:bold;"><span>低</span></div>
<div class="t" style="top:86.65px;font-size:7.50px;line-height:7.50px;height:7.50px;color:#111;left:186.30px;font-weight:bold;"><span>26701</span></div>
<div class="t" style="top:87.10px;font-size:6.20px;line-height:6.20px;height:6.20px;color:#9a9a9a;left:210.00px;font-weight:bold;"><span>收</span></div>
<div class="t" style="top:86.65px;font-size:7.50px;line-height:7.50px;height:7.50px;color:#111;left:218.00px;font-weight:bold;"><span>26738</span></div>
<div class="t" style="top:86.20px;font-size:7.00px;line-height:7.00px;height:7.00px;color:#555;left:319.30px;letter-spacing:-0.1px;"><span>日均線</span><span>(5)</span></div>
<div class="t" style="top:86.05px;font-size:7.30px;line-height:7.30px;height:7.30px;color:#3aa3cf;left:350.30px;"><span>27025.00</span></div>
<div class="t" style="top:86.20px;font-size:7.00px;line-height:7.00px;height:7.00px;color:#555;left:381.50px;letter-spacing:-0.1px;"><span>金雞棒</span><span>(0)</span></div>
<svg class="a" style="left:803px;top:73.6px" width="19" height="8" viewBox="0 0 19 8" fill="none" stroke="#8a96a3" stroke-width="0.85"><path d="M1 0.4v7M3.5 0.4v7M6 0.4v7M0 5h2M2.5 2.6h2M5 4.4h2"/><path d="M12.6 1.6h3.2l1.8 1.6v4.2h-5zM11.7 5.8v-5h3.6"/><path d="M13.6 3.8h2.6M13.6 5.4h2.6" stroke-width="0.6"/></svg>
<svg class="a" style="left:792.4px;top:353.2px" width="30" height="8" viewBox="0 0 30 8" fill="none" stroke="#8a96a3" stroke-width="0.85"><path d="M1 0.4v7M3.5 0.4v7M6 0.4v7M0 5h2M2.5 2.6h2M5 4.4h2"/><path d="M11.4 0.8h2.6v2.6h-2.6zM15.2 0.8h2.4v2.2M11.4 4.6h2.4v2.6h-2.4zM15.2 4.4h2.6v2.8h-2.6z" stroke-width="0.8"/><path d="M22.6 0.6L28.8 7.2M28.8 0.6L22.6 7.2" stroke-width="0.8"/></svg>
<svg class="a" style="left:792.4px;top:409.0px" width="30" height="8" viewBox="0 0 30 8" fill="none" stroke="#8a96a3" stroke-width="0.85"><path d="M1 0.4v7M3.5 0.4v7M6 0.4v7M0 5h2M2.5 2.6h2M5 4.4h2"/><path d="M11.4 0.8h2.6v2.6h-2.6zM15.2 0.8h2.4v2.2M11.4 4.6h2.4v2.6h-2.4zM15.2 4.4h2.6v2.8h-2.6z" stroke-width="0.8"/><path d="M22.6 0.6L28.8 7.2M28.8 0.6L22.6 7.2" stroke-width="0.8"/></svg>
<svg class="a" style="left:792.4px;top:464.6px" width="30" height="8" viewBox="0 0 30 8" fill="none" stroke="#8a96a3" stroke-width="0.85"><path d="M1 0.4v7M3.5 0.4v7M6 0.4v7M0 5h2M2.5 2.6h2M5 4.4h2"/><path d="M11.4 0.8h2.6v2.6h-2.6zM15.2 0.8h2.4v2.2M11.4 4.6h2.4v2.6h-2.4zM15.2 4.4h2.6v2.8h-2.6z" stroke-width="0.8"/><path d="M22.6 0.6L28.8 7.2M28.8 0.6L22.6 7.2" stroke-width="0.8"/></svg>
<svg class="a" style="left:40.6px;top:136.8px" width="6.4" height="4" viewBox="0 0 6.4 4"><path d="M6.2 2H0.8M2.4 0.4L0.7 2L2.4 3.6" fill="none" stroke="#666d78" stroke-width="0.8"/></svg>
<div class="t" style="top:135.50px;font-size:7.80px;line-height:7.80px;height:7.80px;color:#666d78;left:47.10px;transform:scaleX(0.875);transform-origin:left center;"><span>27208</span></div>
<div class="t" style="top:107.60px;font-size:8.80px;line-height:8.80px;height:8.80px;color:#7a8088;left:826.90px;transform:scaleX(0.900);transform-origin:left center;"><span>27286</span></div>
<div class="t" style="top:223.40px;font-size:8.80px;line-height:8.80px;height:8.80px;color:#7a8088;left:826.90px;transform:scaleX(0.900);transform-origin:left center;"><span>26988</span></div>
<div class="t" style="top:339.70px;font-size:8.80px;line-height:8.80px;height:8.80px;color:#7a8088;left:826.90px;transform:scaleX(0.900);transform-origin:left center;"><span>26689</span></div>
<div class="t" style="top:398.70px;font-size:8.80px;line-height:8.80px;height:8.80px;color:#7a8088;left:826.90px;transform:scaleX(0.900);transform-origin:left center;"><span>0</span></div>
<div class="t" style="top:418.90px;font-size:8.80px;line-height:8.80px;height:8.80px;color:#7a8088;left:826.90px;transform:scaleX(0.900);transform-origin:left center;"><span>0</span></div>
<div class="t" style="top:435.80px;font-size:8.80px;line-height:8.80px;height:8.80px;color:#7a8088;left:826.90px;transform:scaleX(0.900);transform-origin:left center;"><span>-4000</span></div>
<div class="t" style="top:454.70px;font-size:8.80px;line-height:8.80px;height:8.80px;color:#7a8088;left:826.90px;transform:scaleX(0.900);transform-origin:left center;"><span>-8000</span></div>
<div class="t" style="top:474.90px;font-size:8.80px;line-height:8.80px;height:8.80px;color:#7a8088;left:826.90px;transform:scaleX(0.900);transform-origin:left center;"><span>0</span></div>
<div class="t" style="top:362.80px;font-size:8.80px;line-height:8.80px;height:8.80px;color:#7a8088;left:826.90px;transform:scaleX(0.900);transform-origin:left center;"><span>1.20</span><span>万</span></div>
<div class="t" style="top:510.10px;font-size:8.80px;line-height:8.80px;height:8.80px;color:#7a8088;left:826.90px;transform:scaleX(0.900);transform-origin:left center;"><span>-1.50</span><span>万</span></div>
<div class="t" style="top:354.10px;font-size:7.00px;line-height:7.00px;height:7.00px;color:#3a3a3a;left:7.20px;"><span>成交量</span></div>
<div class="t" style="top:353.95px;font-size:7.30px;line-height:7.30px;height:7.30px;color:#ffae35;left:29.50px;"><span>2553.00</span></div>
<svg class="a" style="left:55.8px;top:354.4px" width="3" height="6.4" viewBox="0 0 3 6.4"><path d="M1.5 0.3V6M0.3 4.6L1.5 6.1L2.7 4.6" fill="none" stroke="#ffae35" stroke-width="1"/></svg>
<div class="t" style="top:354.05px;font-size:7.10px;line-height:7.10px;height:7.10px;color:#48c2f8;left:60.10px;"><span>2959.40</span></div>
<svg class="a" style="left:86.0px;top:354.4px" width="3" height="6.4" viewBox="0 0 3 6.4"><path d="M1.5 6.1V0.4M0.3 1.8L1.5 0.3L2.7 1.8" fill="none" stroke="#48c2f8" stroke-width="1"/></svg>
<div class="t" style="top:409.82px;font-size:6.95px;line-height:6.95px;height:6.95px;color:#3a3a3a;left:7.50px;"><span>買賣力道</span></div>
<div class="t" style="top:409.70px;font-size:7.20px;line-height:7.20px;height:7.20px;color:#ffae35;left:36.80px;"><span>-56.00</span></div>
<svg class="a" style="left:57.4px;top:410.1px" width="3" height="6.4" viewBox="0 0 3 6.4"><path d="M1.5 6.1V0.4M0.3 1.8L1.5 0.3L2.7 1.8" fill="none" stroke="#ffae35" stroke-width="1"/></svg>
<div class="t" style="top:465.52px;font-size:6.95px;line-height:6.95px;height:6.95px;color:#3a3a3a;left:7.50px;"><span>大戶籌碼</span></div>
<div class="t" style="top:465.40px;font-size:7.20px;line-height:7.20px;height:7.20px;color:#ffae35;left:36.80px;"><span>-363.00</span></div>
<svg class="a" style="left:61.6px;top:465.8px" width="3" height="6.4" viewBox="0 0 3 6.4"><path d="M1.5 0.3V6M0.3 4.6L1.5 6.1L2.7 4.6" fill="none" stroke="#ffae35" stroke-width="1"/></svg>
<div class="a" style="left:850.3px;top:70.6px;width:21.6px;height:64.7px;box-sizing:border-box;border:1px solid #dedede;background:#fff"></div>
<div class="a" style="left:851px;top:122.2px;width:19.6px;height:0.8px;background:#e2e2e2"></div>
<svg class="a" style="left:851px;top:72px" width="20" height="70" viewBox="0 0 20 70" fill="none" stroke="#5b7fb0" stroke-width="0.8"><circle cx="16.6" cy="7.2" r="1.3"/><circle cx="7.8" cy="15.6" r="1.3"/><path d="M15.6 8.1L8.8 14.7"/><circle cx="7.8" cy="19.8" r="1.2"/><circle cx="14.4" cy="21.6" r="1.2"/><circle cx="16.6" cy="28" r="1.2"/><path d="M9 20.1L13.2 21.3M14.8 22.7L16.2 26.9"/><path d="M1.5 36L4.6 33.4V38.6Z" fill="#5b7fb0" stroke="none"/><path d="M7.7 54.3L17.6 44.8M7.7 54.3L13 44.2M7.7 54.3L17.6 49.8M7.7 54.3V44" stroke-width="0.65"/><path d="M7.7 54.3H17.8" stroke-width="1.1"/><path d="M7 59.6h10.8M10.2 59.4v-1.4q0-0.4 0.4-0.4h3.6q0.4 0 0.4 0.4v1.4M8.5 59.8v7.6q0 1 1 1h5.8q1 0 1-1v-7.6M11 61.6v5M13.8 61.6v5" stroke-width="0.9"/></svg>
<div class="t" style="left:859.4px;top:30.8px;font-family:'Liberation Serif',serif;font-size:16.5px;line-height:16.5px;color:#5b7fb0;transform:translateY(70px) scaleX(0.74);transform-origin:left">T</div>
<div class="a" style="left:876px;top:59.6px;width:139.2px;height:255px;box-sizing:border-box;border:1px solid #555;border-right-color:#a8a8a0;border-bottom-color:#a8a8a0;background:#ffffbb"></div>
<div class="a" style="left:877px;top:60.6px;width:137.2px;height:15.4px;background:#cfcfcf"></div>
<div class="a" style="left:877px;top:76px;width:137.2px;height:20.4px;background:#dddddd"></div>
<div class="a" style="left:877px;top:76px;width:31.8px;height:20.4px;background:#c1c1c1"></div>
<div class="t" style="top:64.55px;font-size:6.90px;line-height:6.90px;height:6.90px;color:#333;left:880.20px;"><span>台指期</span><span>-</span><span>策略</span><span>3&nbsp;(</span><span>模擬交易</span><span>)</span></div>
<div class="a" style="left:984.6px;top:61.2px;width:29.6px;height:11px;box-sizing:border-box;border:1px solid #9a9a9a;border-radius:1px;background:#fafafa"></div>
<div class="t" style="top:63.25px;font-size:6.90px;line-height:6.90px;height:6.90px;color:#333;left:999.40px;transform:translateX(-50%);"><span>切換模式</span></div>
<div class="t" style="top:82.70px;font-size:7.00px;line-height:7.00px;height:7.00px;color:#222;left:892.80px;transform:translateX(-50%);font-weight:bold;"><span>下單</span></div>
<div class="t" style="top:82.75px;font-size:6.90px;line-height:6.90px;height:6.90px;color:#333;left:924.50px;transform:translateX(-50%);"><span>策略設定</span></div>
<div class="t" style="top:82.75px;font-size:6.90px;line-height:6.90px;height:6.90px;color:#333;left:956.30px;transform:translateX(-50%);"><span>交易記錄</span></div>
<div class="t" style="top:82.75px;font-size:6.90px;line-height:6.90px;height:6.90px;color:#333;left:993.20px;transform:translateX(-50%);"><span>歷史回測</span></div>
<svg class="a" style="left:985px;top:98.6px" width="28" height="9" viewBox="0 0 28 9" fill="none"><circle cx="3.2" cy="3.4" r="2.5" fill="#7ec8ff" stroke="#6a3fb5" stroke-width="0.9"/><path d="M5 5.4L7.4 8" stroke="#8a2ab0" stroke-width="1.4" stroke-linecap="round"/><path d="M9.6 4.6h3.4M11.3 2.9v3.4" stroke="#3a3ad0" stroke-width="0.8"/><circle cx="18.8" cy="3.4" r="2.5" fill="#7ec8ff" stroke="#6a3fb5" stroke-width="0.9"/><path d="M20.6 5.4L23 8" stroke="#8a2ab0" stroke-width="1.4" stroke-linecap="round"/><path d="M25 4.6h2.2" stroke="#3a3ad0" stroke-width="0.8"/></svg>
<div class="t" style="top:105.75px;font-size:7.30px;line-height:7.30px;height:7.30px;color:#3a3a2a;left:885.00px;"><span>商品</span><span>:&nbsp;</span><span>小型台指期</span></div>
<div class="t" style="top:116.75px;font-size:7.30px;line-height:7.30px;height:7.30px;color:#3a3a2a;left:885.00px;"><span>收盤價</span><span>:&nbsp;26737.00</span></div>
<div class="t" style="top:127.75px;font-size:7.30px;line-height:7.30px;height:7.30px;color:#3a3a2a;left:885.00px;"><span>今日漲跌</span><span>:&nbsp;-747&nbsp;(-2.72%)</span></div>
<div class="t" style="top:138.75px;font-size:7.30px;line-height:7.30px;height:7.30px;color:#3a3a2a;left:885.00px;"><span>策略設定</span><span>:&nbsp;</span><span>全部條件</span></div>
<div class="t" style="top:149.75px;font-size:7.30px;line-height:7.30px;height:7.30px;color:#3a3a2a;left:885.00px;"><span>未平倉部位</span><span>:&nbsp;0</span></div>
<div class="t" style="top:160.75px;font-size:7.30px;line-height:7.30px;height:7.30px;color:#3a3a2a;left:885.00px;"><span>平均進場價格</span><span>:&nbsp;0.00</span></div>
<div class="t" style="top:171.75px;font-size:7.30px;line-height:7.30px;height:7.30px;color:#3a3a2a;left:885.00px;"><span>移動停利價格</span><span>:&nbsp;0.00</span></div>
<div class="t" style="top:182.75px;font-size:7.30px;line-height:7.30px;height:7.30px;color:#3a3a2a;left:885.00px;"><span>未平倉損益</span><span>:&nbsp;0.00</span></div>
<div class="t" style="top:193.75px;font-size:7.30px;line-height:7.30px;height:7.30px;color:#3a3a2a;left:885.00px;"><span>停利線出場損益</span><span>:&nbsp;0.00</span></div>
<div class="t" style="top:204.75px;font-size:7.30px;line-height:7.30px;height:7.30px;color:#3a3a2a;left:885.00px;"><span>平倉損益</span><span>:&nbsp;0.00</span></div>
<div class="a" style="left:882.4px;top:217.4px;width:62.3px;height:45.1px;background:#ff0000"></div>
<div class="a" style="left:946.3px;top:217.4px;width:62.4px;height:45.1px;background:#007f0e"></div>
<div class="a" style="left:925.3px;top:217.4px;width:41.2px;height:20.8px;background:#fff;box-sizing:border-box;border:0.6px solid #ddd"></div>
<div class="t" style="top:223.80px;font-size:9.20px;line-height:9.20px;height:9.20px;color:#333;left:941.20px;transform:translateX(-50%);"><span>1</span></div>
<div class="t" style="top:223.20px;font-size:9.40px;line-height:9.40px;height:9.40px;color:#fff;left:903.30px;transform:translateX(-50%) scaleX(0.930);"><span>BUY</span></div>
<div class="t" style="top:223.20px;font-size:9.40px;line-height:9.40px;height:9.40px;color:#fff;left:987.30px;transform:translateX(-50%) scaleX(0.930);"><span>SELL</span></div>
<div class="t" style="left:895.6px;top:243px;font-size:8.8px;line-height:16px;height:16px;color:#fff;letter-spacing:-0.2px">267 <span style="font-size:13.8px">40</span></div>
<div class="t" style="left:960px;top:243px;font-size:8.8px;line-height:16px;height:16px;color:#fff;letter-spacing:-0.2px">267 <span style="font-size:13.8px">38</span></div>
<div class="a" style="left:882.4px;top:265.6px;width:126.3px;height:21.4px;border-radius:1.5px;background:#0077ff"></div>
<div class="t" style="top:272.70px;font-size:7.20px;line-height:7.20px;height:7.20px;color:#fff;left:945.60px;transform:translateX(-50%);"><span>全部平倉</span></div>
<div class="a" style="left:882.4px;top:290.6px;width:126.3px;height:17.6px;box-sizing:border-box;border:1px solid #2a2a2a;border-bottom-width:1.6px;border-radius:1px;background:#00aaff"></div>
<div class="t" style="top:295.80px;font-size:7.20px;line-height:7.20px;height:7.20px;color:#fff;left:945.60px;transform:translateX(-50%);"><span>影音教學</span></div>
<div class="a" style="left:1.5px;top:540.6px;width:24px;height:8px;box-sizing:border-box;border:1px solid #c4c4c4;border-right-color:#aaa;border-radius:1.5px 1.5px 0 0;background:#fff"></div>
<div class="t" style="top:541.75px;font-size:6.30px;line-height:6.30px;height:6.30px;color:#222;left:4.80px;"><span>台指期</span></div>
<div class="a" style="left:1021.5px;top:25px;width:2.5px;height:514.5px;background:#fbfbfb"></div>
</body></html>
